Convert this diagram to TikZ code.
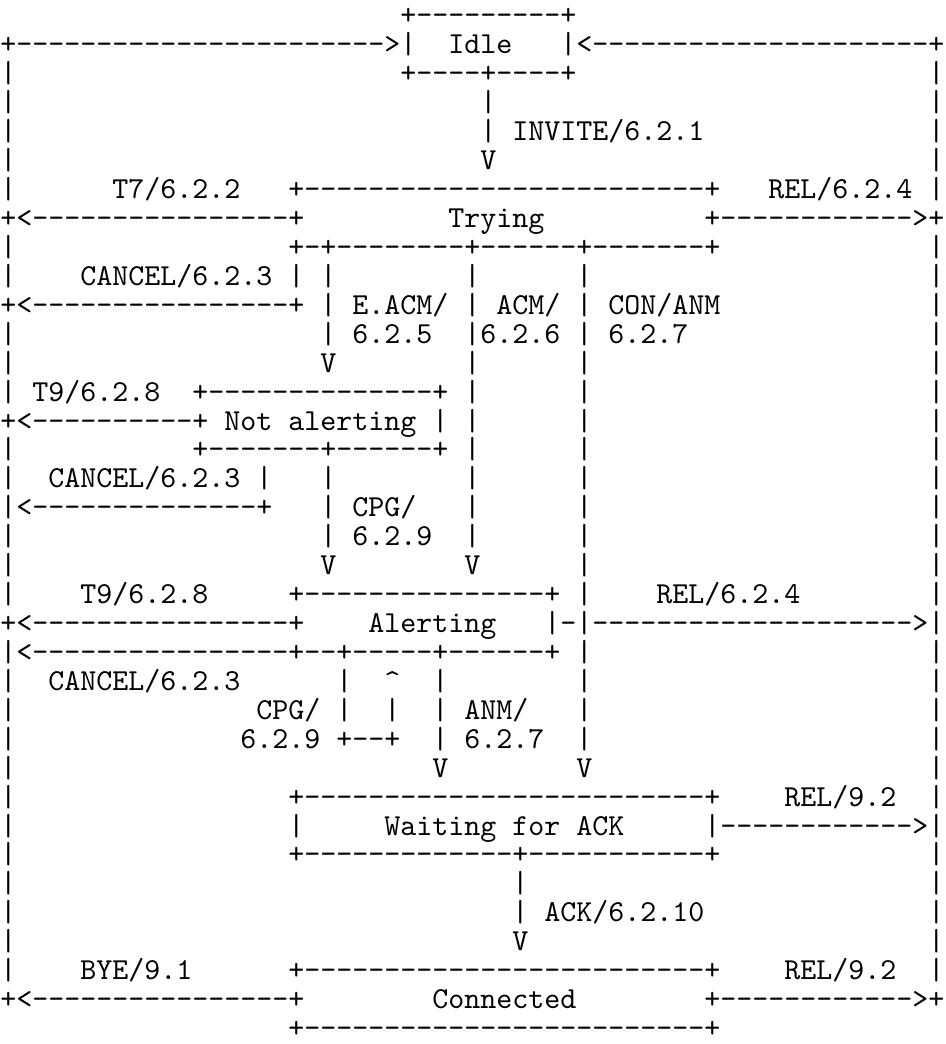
\documentclass[tikz,border=0pt]{standalone}
\usepackage{fontspec}
\setmonofont{lmmono10-regular.otf}
\usepackage{tikz}

\tikzset{
  asc/.style={anchor=base west,inner sep=0pt,outer sep=0pt,
    font=\ttfamily\fontsize{15.238}{15}\selectfont}
}

\begin{document}
\begin{tikzpicture}[x=8pt,y=-14.465pt,every node/.style={asc}]
\useasboundingbox (-0.025,-0.864) rectangle (59.04,35.223);
% outer rails
\foreach \r in {2,...,6,8,9,11,12,13,15,16,18,19,20,23,24,...,33} {\node (lft\r) at (0,\r) {|};}
\foreach \r in {2,...,6,8,9,...,20,22,23,...,27,29,30,...,33} {\node (rgt\r) at (58,\r) {|};}
% inner rails
\foreach \r in {9,...,18} {\node (acm\r) at (29,\r) {|};}
\foreach \r in {9,...,20,22,23,24,25} {\node (con\r) at (36,\r) {|};}
\foreach \r in {9,10,11,16,17,18} {\node (ecm\r) at (20,\r) {|};}
\foreach \r in {23,24,25} {\node (anm\r) at (27,\r) {|};}
\foreach \r in {23,24} {\node (cpl\r) at (21,\r) {|};}
\foreach \r in {3,4} {\node (inv\r) at (30,\r) {|};}
\foreach \r in {30,31} {\node (ack\r) at (32,\r) {|};}

% Idle
\node (idtop) at (25,0) {+---------+};
\node (idl) at (0,1) {+----------------------->|};
\node (idle) at (28,1) {Idle};
\node (idr) at (35,1) {|<---------------------+};
\node (idbot) at (25,2) {+----+----+};
\node (invite) at (32,4) {INVITE/6.2.1}; \node (vinv) at (30,5) {V};

% Trying
\node (t7) at (7,6) {T7/6.2.2}; \node (trtop) at (18,6) {+-------------------------+}; \node (rel1) at (48,6) {REL/6.2.4};
\node (trl) at (0,7) {+<----------------+}; \node (trying) at (28,7) {Trying}; \node (trr) at (44,7) {+------------>+};
\node (trbot) at (18,8) {+-+--------+------+-------+};
\node (cancel1) at (5,9) {CANCEL/6.2.3}; \node (cnl9) at (18,9) {|};
\node (cnl) at (0,10) {+<----------------+};
\node (eacm) at (22,10) {E.ACM/}; \node (acm) at (31,10) {ACM/}; \node (conanm) at (38,10) {CON/ANM};
\node (eacmn) at (22,11) {6.2.5}; \node (acmn) at (30,11) {6.2.6}; \node (conn) at (38,11) {6.2.7};
\node (veacm) at (20,12) {V};

% Not alerting
\node (t9a) at (2,13) {T9/6.2.8}; \node (natop) at (12,13) {+--------------+};
\node (nal) at (0,14) {+<----------+}; \node (notal) at (14,14) {Not alerting}; \node (nar) at (27,14) {|};
\node (nabot) at (12,15) {+-------+------+};
\node (cancel2) at (3,16) {CANCEL/6.2.3}; \node (cnl16) at (16,16) {|};
\node (cnl2) at (0,17) {|<--------------+}; \node (cpg1) at (22,17) {CPG/};
\node (cpg1n) at (22,18) {6.2.9};
\node (vcpg) at (20,19) {V}; \node (vacm) at (29,19) {V};

% Alerting
\node (t9b) at (5,20) {T9/6.2.8}; \node (altop) at (18,20) {+---------------+}; \node (rel2) at (41,20) {REL/6.2.4};
\node (all) at (0,21) {+<----------------+}; \node (alerting) at (23,21) {Alerting}; \node (alr) at (34,21) {|-|-------------------->|};
\node (albot) at (0,22) {|<----------------+--+-----+------+};
\node (cancel3) at (3,23) {CANCEL/6.2.3}; \node (up) at (24,23) {\textasciicircum};
\node (cpg2) at (16,24) {CPG/}; \node (cpu24) at (24,24) {|}; \node (anm) at (29,24) {ANM/};
\node (cpg2n) at (15,25) {6.2.9}; \node (cpgloop) at (21,25) {+--+}; \node (anmn) at (29,25) {6.2.7};
\node (vanm) at (27,26) {V}; \node (vcon) at (36,26) {V};

% Waiting for ACK
\node (watop) at (18,27) {+-------------------------+}; \node (rel3) at (49,27) {REL/9.2};
\node (wal) at (18,28) {|}; \node (waitack) at (24,28) {Waiting for ACK}; \node (war) at (44,28) {|------------>|};
\node (wabot) at (18,29) {+-------------+-----------+};
\node (ackl) at (34,31) {ACK/6.2.10}; \node (vack) at (32,32) {V};

% Connected
\node (bye) at (5,33) {BYE/9.1}; \node (cotop) at (18,33) {+-------------------------+}; \node (rel4) at (49,33) {REL/9.2};
\node (col) at (0,34) {+<----------------+}; \node (connected) at (27,34) {Connected}; \node (cor) at (44,34) {+------------>+};
\node (cobot) at (18,35) {+-------------------------+};
\end{tikzpicture}
\end{document}
